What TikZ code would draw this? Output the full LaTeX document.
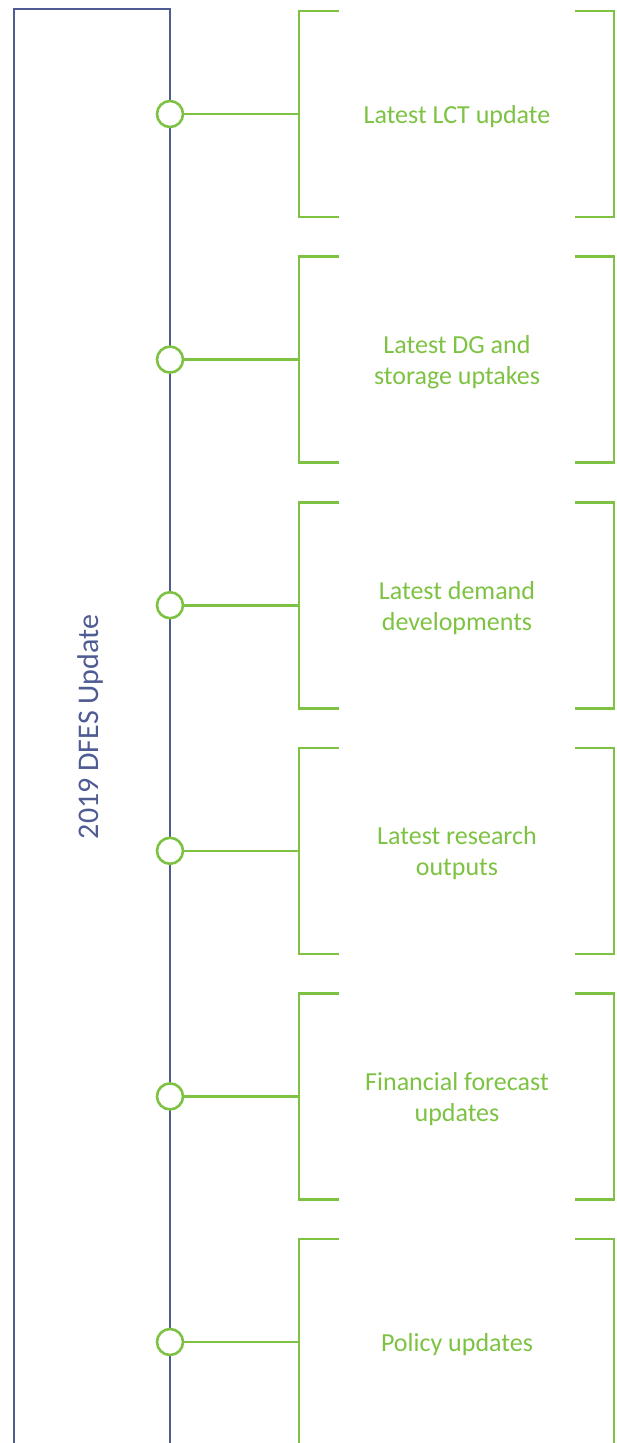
\documentclass[tikz,border=0pt]{standalone}
\usepackage{fontspec}
\setmainfont{Carlito}
\definecolor{navy}{HTML}{4F5B93}
\definecolor{lgreen}{HTML}{7DC242}
\begin{document}
\begin{tikzpicture}[x=1pt,y=-1pt,
  frame/.style={draw=navy,line width=2.4pt},
  gline/.style={draw=lgreen,line width=2.6pt},
  dot/.style={circle,draw=lgreen,line width=2.6pt,fill=white,minimum size=26pt,inner sep=0pt},
  lbl/.style={text=lgreen,font=\fontsize{26}{31}\selectfont,align=center}]
\useasboundingbox (0,0) rectangle (616,1443);
\draw[frame] (14,1450) -- (14,9) -- (170,9) -- (170,1450);
\node[rotate=90,text=navy,font=\fontsize{30}{36}\selectfont] (title) at (91,727) {2019 DFES Update};
\foreach \i/\t in {0/{Latest LCT update},1/{Latest DG and\\storage uptakes},2/{Latest demand\\developments},3/{Latest research\\outputs},4/{Financial forecast\\updates},5/{Policy updates}}{
  \pgfmathsetmacro{\yc}{114+245.6*\i}
  \pgfmathsetmacro{\yt}{\yc-103}
  \pgfmathsetmacro{\yb}{\yc+103}
  \draw[gline] (339,\yt) -- (299,\yt) -- (299,\yb) -- (339,\yb);
  \draw[gline] (575,\yt) -- (614,\yt) -- (614,\yb) -- (575,\yb);
  \coordinate (b\i) at (299,\yc);
  \node[dot] (c\i) at (170,\yc) {};
  \draw[gline] (c\i) -- (b\i);
  \node[lbl] (t\i) at (457,\yc+2.5) {\t};
}
\end{tikzpicture}
\end{document}
